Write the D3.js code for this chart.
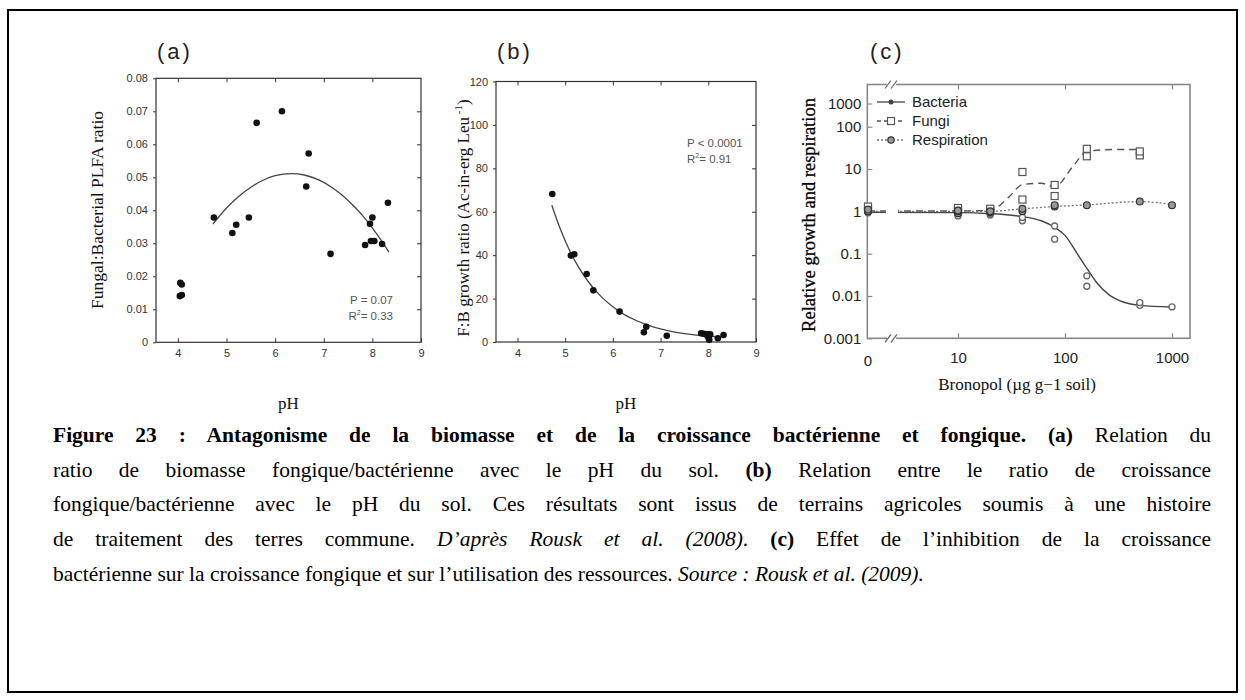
<!DOCTYPE html>
<html>
<head>
<meta charset="utf-8">
<script src="https://cdn.jsdelivr.net/npm/d3@7"></script>
<style>
  body { margin: 0; background: #fff; }
  svg { display: block; }
  text { white-space: pre; }
</style>
</head>
<body>
<svg id="fig" width="1245" height="700"></svg>
<script>
// ---------- Panel (a): fungal:bacterial PLFA ratio vs soil pH ----------
const phA    = [4.05, 4.08, 4.04, 4.08, 4.74, 5.12, 5.20, 5.46, 5.62, 6.14, 6.64, 6.69, 7.14, 7.85, 7.95, 8.00, 7.97, 8.04, 8.20, 8.32];
const ratioA = [0.0180, 0.0175, 0.0140, 0.0143, 0.0378, 0.0331, 0.0356, 0.0378, 0.0665, 0.0700, 0.0472, 0.0572, 0.0268, 0.0295, 0.0359, 0.0378, 0.0307, 0.0307, 0.0298, 0.0423];
const fitPhA    = [4.72, 5.0, 5.25, 5.5, 5.75, 6.0, 6.33, 6.6, 6.9, 7.2, 7.5, 7.8, 8.1, 8.34];
const fitRatioA = [0.0358, 0.0407, 0.0442, 0.0470, 0.0491, 0.0505, 0.0511, 0.0507, 0.0492, 0.0466, 0.0430, 0.0384, 0.0326, 0.0273];
const yTicksA  = [0, 0.01, 0.02, 0.03, 0.04, 0.05, 0.06, 0.07, 0.08];
const yLabelsA = ["0", "0.01", "0.02", "0.03", "0.04", "0.05", "0.06", "0.07", "0.08"];

// ---------- Panel (b): F:B growth ratio vs soil pH ----------
const phB     = [4.73, 5.12, 5.19, 5.45, 5.59, 6.14, 6.65, 6.70, 7.13, 7.85, 7.90, 7.95, 8.00, 8.02, 8.00, 8.04, 8.20, 8.32];
const growthB = [68.2, 39.8, 40.4, 31.3, 23.8, 14.0, 4.5, 7.0, 2.9, 4.0, 3.8, 3.5, 3.6, 1.0, 2.2, 3.5, 1.7, 3.2];
const fitPhB     = [4.72, 4.9, 5.1, 5.3, 5.5, 5.75, 6.0, 6.25, 6.5, 6.75, 7.0, 7.25, 7.5, 7.75, 8.0, 8.25];
const fitGrowthB = [63.0, 51.9, 41.8, 33.8, 27.3, 21.0, 16.2, 12.5, 9.8, 7.7, 6.0, 4.8, 3.9, 3.2, 2.7, 2.3];
const yTicksB  = [0, 20, 40, 60, 80, 100, 120];

const phTicks  = [4, 5, 6, 7, 8, 9];

// ---------- Panel (c): response to bronopol ----------
const doses       = [0, 10, 20, 40, 80, 160, 500, 1000];
const bacteriaRep = [[0.92, 1.0], [0.78, 0.88, 0.95], [0.82, 0.9], [0.6, 0.72], [0.22, 0.45], [0.017, 0.03], [0.006, 0.007], [0.0055]];
const fungiRep    = [[1.1, 1.3], [1.0, 1.1, 1.2], [1.05, 1.15], [1.9, 8.5], [2.3, 4.2], [20, 30], [21, 26], []];
const respRep     = [[1.0, 1.1], [0.9, 1.0, 1.05], [0.95, 1.0], [1.0, 1.15], [1.3, 1.4], [1.4], [1.7], [1.4]];
const bacteriaFitDose = [0, 10, 20, 30, 40, 60, 80, 100, 130, 160, 200, 260, 350, 500, 1000];
const bacteriaFitVal  = [0.95, 0.93, 0.88, 0.82, 0.75, 0.6, 0.42, 0.27, 0.1, 0.045, 0.02, 0.0105, 0.0072, 0.006, 0.0055];
const fungiFitDose = [0, 10, 20, 30, 40, 60, 80, 120, 160, 300, 500];
const fungiFitVal  = [1.02, 1.02, 1.05, 2.2, 4.3, 4.6, 3.8, 12, 26, 29, 29];
const respFitDose  = [0, 10, 20, 40, 80, 160, 500, 1000];
const respFitVal   = [1.0, 1.0, 1.0, 1.15, 1.3, 1.42, 1.7, 1.45];
const cYTicks  = [0.001, 0.01, 0.1, 1, 10, 100, 1000];
const cYLabels = ["0.001", "0.01", "0.1", "1", "10", "100", "1000"];
const cXTicks  = [10, 100, 1000];
const legendNames = ["Bacteria", "Fungi", "Respiration"];

const SANS  = "'Liberation Sans', Arial, sans-serif";
const SERIF = "'Liberation Serif', 'Times New Roman', serif";
const svg = d3.select("#fig");

// page frame
svg.append("rect").attr("x", 8).attr("y", 10).attr("width", 1229).attr("height", 682)
  .attr("fill", "none").attr("stroke", "#000").attr("stroke-width", 2);

function styleAxis(sel, size) {
  sel.select(".domain").remove();
  sel.selectAll(".tick line").attr("stroke", "#333").attr("stroke-width", 1);
  sel.selectAll(".tick text").attr("fill", "#333").attr("font-family", SANS).attr("font-size", size);
}

// Shared drawing for the two pH scatter panels
function phPanel(o) {
  const g = svg.append("g");
  const x = d3.scaleLinear().domain([3.55, 9]).range([o.left, o.right]);
  const y = d3.scaleLinear().domain([o.yTicks[0], o.yTicks[o.yTicks.length - 1]]).range([o.bottom, o.top]);

  g.append("g").attr("transform", `translate(${o.left},0)`)
    .call(d3.axisLeft(y).tickValues(o.yTicks).tickFormat((d, i) => o.yLabels[i]).tickSize(3).tickPadding(5))
    .call(s => styleAxis(s, 11));
  g.append("g").attr("transform", `translate(${o.right},0)`)
    .call(d3.axisRight(y).tickValues(o.yTicks.slice(1, -1)).tickFormat("").tickSize(-4))
    .call(s => styleAxis(s, 11));
  g.append("g").attr("transform", `translate(0,${o.bottom})`)
    .call(d3.axisBottom(x).tickValues(phTicks).tickFormat(d3.format("d")).tickSizeInner(-4).tickSizeOuter(0).tickPadding(7))
    .call(s => styleAxis(s, 11));
  g.append("g").attr("transform", `translate(0,${o.top})`)
    .call(d3.axisTop(x).tickValues(phTicks.slice(0, -1)).tickFormat("").tickSize(-4))
    .call(s => styleAxis(s, 11));

  g.append("rect").attr("x", o.left).attr("y", o.top)
    .attr("width", o.right - o.left).attr("height", o.bottom - o.top)
    .attr("fill", "none").attr("stroke", "#333").attr("stroke-width", 1.2);

  g.append("path").datum(o.fitX.map((v, i) => [v, o.fitY[i]]))
    .attr("d", d3.line().x(d => x(d[0])).y(d => y(d[1])).curve(d3.curveMonotoneX))
    .attr("fill", "none").attr("stroke", "#444").attr("stroke-width", 1.3);

  g.selectAll("circle.pt").data(o.xs.map((v, i) => [v, o.ys[i]])).join("circle")
    .attr("class", "pt").attr("cx", d => x(d[0])).attr("cy", d => y(d[1])).attr("r", 3.3).attr("fill", "#111");

  g.append("text").attr("x", (o.left + o.right) / 2).attr("y", 409).attr("text-anchor", "middle")
    .attr("font-family", SERIF).attr("font-size", 17).attr("fill", "#111").text("pH");

  g.append("text").attr("x", o.left + 1).attr("y", 59).attr("font-family", SANS)
    .attr("font-size", 22).attr("letter-spacing", 3).attr("fill", "#222").text(o.tag);

  const st = g.append("g").attr("font-family", SANS).attr("font-size", 11.5).attr("fill", "#555")
    .attr("text-anchor", o.statAnchor);
  st.append("text").attr("x", o.statX).attr("y", o.statY).text(o.stat1);
  const t2 = st.append("text").attr("x", o.statX).attr("y", o.statY + 16);
  t2.append("tspan").text("R");
  t2.append("tspan").attr("font-size", 7).attr("dy", -5).text("2");
  t2.append("tspan").attr("dy", 5).text("= " + o.stat2);
  return g;
}

phPanel({
  left: 156, right: 421, top: 78.3, bottom: 342.3, tag: "(a)",
  yTicks: yTicksA, yLabels: yLabelsA, xs: phA, ys: ratioA, fitX: fitPhA, fitY: fitRatioA,
  statX: 393, statY: 304, statAnchor: "end", stat1: "P = 0.07", stat2: "0.33"
});
svg.append("text").attr("transform", "translate(103,210) rotate(-90)").attr("text-anchor", "middle")
  .attr("font-family", SERIF).attr("font-size", 17.5).attr("fill", "#111").text("Fungal:Bacterial PLFA ratio");

phPanel({
  left: 496, right: 756, top: 81.5, bottom: 342, tag: "(b)",
  yTicks: yTicksB, yLabels: yTicksB.map(String), xs: phB, ys: growthB, fitX: fitPhB, fitY: fitGrowthB,
  statX: 687, statY: 147, statAnchor: "start", stat1: "P < 0.0001", stat2: "0.91"
});
{
  const t = svg.append("text").attr("transform", "translate(469,218) rotate(-90)").attr("text-anchor", "middle")
    .attr("font-family", SERIF).attr("font-size", 17).attr("fill", "#111");
  t.append("tspan").text("F:B growth ratio (Ac-in-erg Leu");
  t.append("tspan").attr("font-size", 11).attr("dy", -7).text(" -1");
  t.append("tspan").attr("dy", 7).text(")");
}

// ---------- Panel (c) ----------
{
  const left = 867.3, right = 1190, top = 84.5, bottom = 338.3, zeroX = 868;
  const xLog = d3.scaleLog().domain([10, 1000]).range([958, 1172]);
  const xC = v => (v === 0 ? zeroX : xLog(v));
  // the top decade of this axis is drawn compressed
  const yC = d3.scaleLog().domain([0.001, 100, 1000]).range([bottom, 126.7, 103.5]);
  const g = svg.append("g");
  const frameCol = "#888";

  const styleC = s => {
    s.select(".domain").remove();
    s.selectAll(".tick line").attr("stroke", frameCol).attr("stroke-width", 1.2);
    s.selectAll(".tick text").attr("fill", "#222").attr("font-family", SANS).attr("font-size", 15);
  };
  g.append("g").attr("transform", `translate(${left},0)`)
    .call(d3.axisLeft(yC).tickValues(cYTicks).tickFormat((d, i) => cYLabels[i]).tickSizeInner(-5).tickSizeOuter(0).tickPadding(6))
    .call(styleC);
  g.append("g").attr("transform", `translate(0,${bottom})`)
    .call(d3.axisBottom(xLog).tickValues(cXTicks).tickFormat(d3.format("d")).tickSizeInner(-5).tickSizeOuter(0).tickPadding(14))
    .call(styleC);
  g.append("g").attr("transform", `translate(0,${top})`)
    .call(d3.axisTop(xLog).tickValues(cXTicks).tickFormat("").tickSizeInner(-5).tickSizeOuter(0))
    .call(styleC);
  g.append("text").attr("x", zeroX).attr("y", bottom + 28).attr("text-anchor", "middle")
    .attr("font-family", SANS).attr("font-size", 15).attr("fill", "#222").text("0");

  g.append("rect").attr("x", left).attr("y", top).attr("width", right - left).attr("height", bottom - top)
    .attr("fill", "none").attr("stroke", frameCol).attr("stroke-width", 1.6);

  // axis break marks on top and bottom edges
  [top, bottom].forEach(yy => {
    g.append("rect").attr("x", 887).attr("y", yy - 2).attr("width", 9).attr("height", 4).attr("fill", "#fff");
    [885, 891].forEach(x0 => g.append("line").attr("x1", x0).attr("y1", yy + 4).attr("x2", x0 + 6).attr("y2", yy - 4)
      .attr("stroke", "#666").attr("stroke-width", 1.2));
  });

  // lines are interrupted at the axis break
  const defs = svg.append("defs");
  const cp = defs.append("clipPath").attr("id", "brk");
  cp.append("rect").attr("x", left).attr("y", top).attr("width", 886 - left).attr("height", bottom - top);
  cp.append("rect").attr("x", 898).attr("y", top).attr("width", right - 898).attr("height", bottom - top);

  const line = d3.line().x(d => xC(d[0])).y(d => yC(d[1])).curve(d3.curveMonotoneX);
  const series = [
    { fd: bacteriaFitDose, fv: bacteriaFitVal, dash: null, col: "#444", w: 1.4 },
    { fd: fungiFitDose, fv: fungiFitVal, dash: "7,5", col: "#555", w: 1.4 },
    { fd: respFitDose, fv: respFitVal, dash: "2,2", col: "#777", w: 1.3 }
  ];
  const lines = g.append("g").attr("clip-path", "url(#brk)");
  series.forEach(s => {
    lines.append("path").datum(s.fd.map((d, i) => [d, s.fv[i]])).attr("d", line)
      .attr("fill", "none").attr("stroke", s.col).attr("stroke-width", s.w)
      .attr("stroke-dasharray", s.dash);
  });

  const flat = rep => rep.flatMap((vals, i) => vals.map(v => [doses[i], v]));
  // Bacteria: small open circles
  g.append("g").selectAll("circle").data(flat(bacteriaRep)).join("circle")
    .attr("cx", d => xC(d[0])).attr("cy", d => yC(d[1])).attr("r", 3)
    .attr("fill", "#fff").attr("stroke", "#666").attr("stroke-width", 1.3);
  // Fungi: open squares
  g.append("g").selectAll("rect").data(flat(fungiRep)).join("rect")
    .attr("x", d => xC(d[0]) - 3.5).attr("y", d => yC(d[1]) - 3.5).attr("width", 7).attr("height", 7)
    .attr("fill", "#fff").attr("stroke", "#555").attr("stroke-width", 1.2);
  // Respiration: grey filled circles
  g.append("g").selectAll("circle").data(flat(respRep)).join("circle")
    .attr("cx", d => xC(d[0])).attr("cy", d => yC(d[1])).attr("r", 3.4)
    .attr("fill", "#999").attr("stroke", "#333").attr("stroke-width", 1.2);

  // legend
  const lg = g.append("g");
  legendNames.forEach((name, i) => {
    const yy = 102 + i * 19, s = series[i];
    lg.append("line").attr("x1", 877).attr("x2", 905).attr("y1", yy).attr("y2", yy)
      .attr("stroke", s.col).attr("stroke-width", 1.3).attr("stroke-dasharray", i === 1 ? "4,3" : (i === 2 ? "2,2" : null));
    if (i === 0) lg.append("circle").attr("cx", 891).attr("cy", yy).attr("r", 2.5).attr("fill", "#444");
    if (i === 1) lg.append("rect").attr("x", 887.5).attr("y", yy - 3.5).attr("width", 7).attr("height", 7)
      .attr("fill", "#fff").attr("stroke", "#555").attr("stroke-width", 1.2);
    if (i === 2) lg.append("circle").attr("cx", 891).attr("cy", yy).attr("r", 3.2)
      .attr("fill", "#999").attr("stroke", "#333").attr("stroke-width", 1.2);
    lg.append("text").attr("x", 912).attr("y", yy + 5).attr("font-family", SANS).attr("font-size", 15)
      .attr("fill", "#222").text(name);
  });

  g.append("text").attr("transform", "translate(815,215) rotate(-90)").attr("text-anchor", "middle")
    .attr("font-family", SERIF).attr("font-size", 18.5).attr("fill", "#000").attr("stroke", "#000")
    .attr("stroke-width", 0.3).text("Relative growth and respiration");
  g.append("text").attr("x", 1017).attr("y", 390).attr("text-anchor", "middle")
    .attr("font-family", SERIF).attr("font-size", 17).attr("fill", "#111").text("Bronopol (µg g−1 soil)");

  svg.append("text").attr("x", 870).attr("y", 59).attr("font-family", SANS)
    .attr("font-size", 22).attr("letter-spacing", 3).attr("fill", "#222").text("(c)");
}

// ---------- Caption ----------
const captionLines = [
  [["Figure 23 : Antagonisme de la biomasse et de la croissance bactérienne et fongique.", "b"], [" ", ""], ["(a)", "b"], [" Relation du", ""]],
  [["ratio de biomasse fongique/bactérienne avec le pH du sol. ", ""], ["(b)", "b"], [" Relation entre le ratio de croissance", ""]],
  [["fongique/bactérienne avec le pH du sol. Ces résultats sont issus de terrains agricoles soumis à une histoire", ""]],
  [["de traitement des terres commune. ", ""], ["D’après Rousk et al. (2008)", "i"], [". ", ""], ["(c)", "b"], [" Effet de l’inhibition de la croissance", ""]],
  [["bactérienne sur la croissance fongique et sur l’utilisation des ressources. ", ""], ["Source : Rousk et al. (2009).", "i"]]
];
const capLeft = 53, capWidth = 1158;
captionLines.forEach((parts, li) => {
  const t = svg.append("text").attr("x", capLeft).attr("y", 442 + li * 34.7)
    .attr("font-family", SERIF).attr("font-size", 21.5).attr("fill", "#000");
  parts.forEach(([txt, st]) => {
    const sp = t.append("tspan").text(txt);
    if (st === "b") sp.attr("font-weight", "bold");
    if (st === "i") sp.attr("font-style", "italic");
  });
  if (li < captionLines.length - 1) {
    const natural = t.node().getComputedTextLength();
    const full = parts.map(p => p[0]).join("");
    const nSpaces = (full.match(/ /g) || []).length;
    t.attr("word-spacing", (capWidth - natural) / nSpaces);
  }
});
</script>
</body>
</html>
